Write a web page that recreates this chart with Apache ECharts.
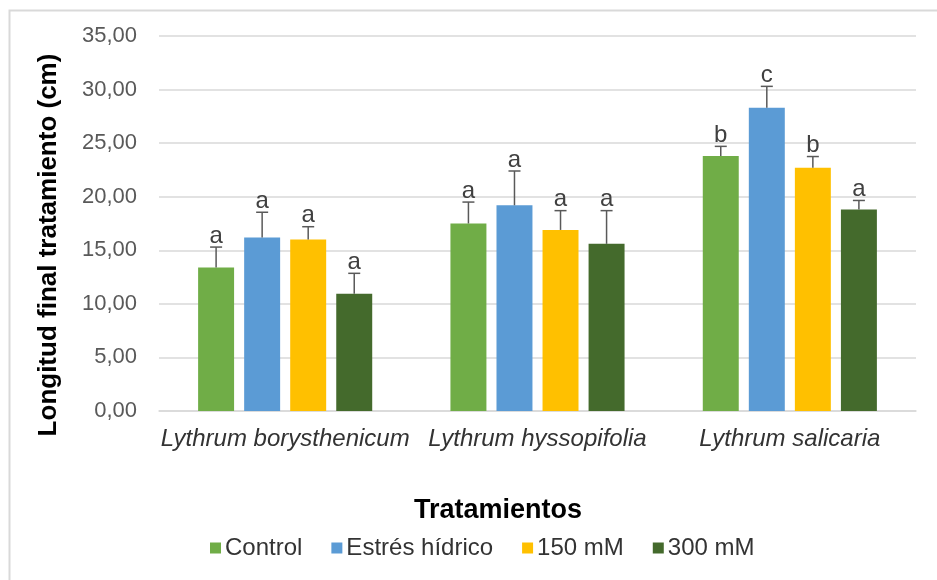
<!DOCTYPE html>
<html>
<head>
<meta charset="utf-8">
<script src="https://cdn.jsdelivr.net/npm/echarts@6/dist/echarts.min.js"></script>
<style>html,body{margin:0;padding:0;background:#fff}#c{width:937px;height:580px}</style>
</head>
<body>
<div id="c"></div>
<script>
var categories = ['Lythrum borysthenicum', 'Lythrum hyssopifolia', 'Lythrum salicaria'];
var seriesNames = ['Control', 'Estrés hídrico', '150 mM', '300 mM'];
var controlVals = [13.4, 17.5, 23.8];
var controlErr = [1.9, 2.0, 0.9];
var controlLetters = ['a', 'a', 'b'];
var estresVals = [16.2, 19.2, 28.3];
var estresErr = [2.35, 3.2, 2.0];
var estresLetters = ['a', 'a', 'c'];
var mM150Vals = [16.0, 16.9, 22.7];
var mM150Err = [1.2, 1.8, 1.05];
var mM150Letters = ['a', 'a', 'b'];
var mM300Vals = [10.95, 15.6, 18.8];
var mM300Err = [1.9, 3.1, 0.85];
var mM300Letters = ['a', 'a', 'a'];
var yTicks = [0, 5, 10, 15, 20, 25, 30, 35];

var colors = ['#70ad47', '#5b9bd5', '#ffc000', '#446a2c'];
var vals = [controlVals, estresVals, mM150Vals, mM300Vals];
var errs = [controlErr, estresErr, mM150Err, mM300Err];
var letters = [controlLetters, estresLetters, mM150Letters, mM300Letters];

var CAT_GAP = 0.31, BAR_GAP = 0.28, N = 4;
var FONT = '"Liberation Sans", Arial, sans-serif';

var series = [];
seriesNames.forEach(function (name, i) {
  series.push({
    name: name, type: 'bar', data: vals[i],
    itemStyle: { color: colors[i] },
    barCategoryGap: (CAT_GAP * 100) + '%', barGap: (BAR_GAP * 100) + '%',
    z: 2
  });
});
seriesNames.forEach(function (name, i) {
  var data = vals[i].map(function (v, j) { return [j, v, v + errs[i][j], letters[i][j]]; });
  series.push({
    type: 'custom', name: name + '_err', data: data, z: 5,
    encode: { x: 0, y: 2 },
    silent: true,
    renderItem: function (params, api) {
      var band = api.size([1, 0])[0];
      var area = band * (1 - CAT_GAP);
      var w = area / (N + (N - 1) * BAR_GAP);
      var off = -area / 2 + i * w * (1 + BAR_GAP) + w / 2;
      var base = api.coord([api.value(0), api.value(1)]);
      var top = api.coord([api.value(0), api.value(2)]);
      var x = base[0] + off;
      return {
        type: 'group',
        children: [
          { type: 'line', shape: { x1: x, y1: base[1], x2: x, y2: top[1] }, style: { stroke: '#595959', lineWidth: 1.5 } },
          { type: 'line', shape: { x1: x - 6, y1: top[1], x2: x + 6, y2: top[1] }, style: { stroke: '#595959', lineWidth: 1.5 } },
          { type: 'text', style: { x: x, y: top[1] + 1, text: api.value(3), align: 'center', verticalAlign: 'bottom', fontSize: 24, fontFamily: FONT, fill: '#404040' } }
        ]
      };
    }
  });
});

var chart = echarts.init(document.getElementById('c'), null, { renderer: 'canvas' });
chart.setOption({
  animation: false,
  backgroundColor: '#fff',
  grid: { left: 159, right: 21, top: 36, bottom: 169, containLabel: false },
  legend: {
    data: seriesNames,
    left: 205, top: 531,
    itemWidth: 11, itemHeight: 11, itemGap: 29,
    icon: 'rect',
    textStyle: { fontSize: 24, fontFamily: FONT, color: '#333333', padding: [0, 0, 0, -1] }
  },
  xAxis: {
    type: 'category', data: categories,
    axisLine: { lineStyle: { color: '#d9d9d9', width: 1.5 } },
    axisTick: { show: false },
    axisLabel: { interval: 0, fontSize: 24, fontStyle: 'italic', fontFamily: FONT, color: '#333333', margin: 16 }
  },
  yAxis: {
    type: 'value', min: yTicks[0], max: yTicks[yTicks.length - 1], interval: 5,
    axisLine: { show: false }, axisTick: { show: false },
    splitLine: { lineStyle: { color: '#d9d9d9', width: 1.5 } },
    axisLabel: {
      fontSize: 22, fontFamily: FONT, color: '#595959', margin: 22,
      formatter: function (v) { return v.toFixed(2).replace('.', ','); }
    }
  },
  graphic: [
    { type: 'rect', left: 7, top: 8, shape: { width: 2000, height: 2000 }, style: { fill: 'none', stroke: '#d9d9d9', lineWidth: 2 }, z: -1, silent: true },
    { type: 'text', x: 49, y: 245, rotation: Math.PI / 2, style: { text: 'Longitud final tratamiento (cm)', align: 'center', verticalAlign: 'middle', fontSize: 26, fontWeight: 'bold', fontFamily: FONT, fill: '#000' } },
    { type: 'text', x: 498, y: 511, style: { text: 'Tratamientos', align: 'center', verticalAlign: 'middle', fontSize: 27, fontWeight: 'bold', fontFamily: FONT, fill: '#000' } }
  ],
  series: series
});
</script>
</body>
</html>
